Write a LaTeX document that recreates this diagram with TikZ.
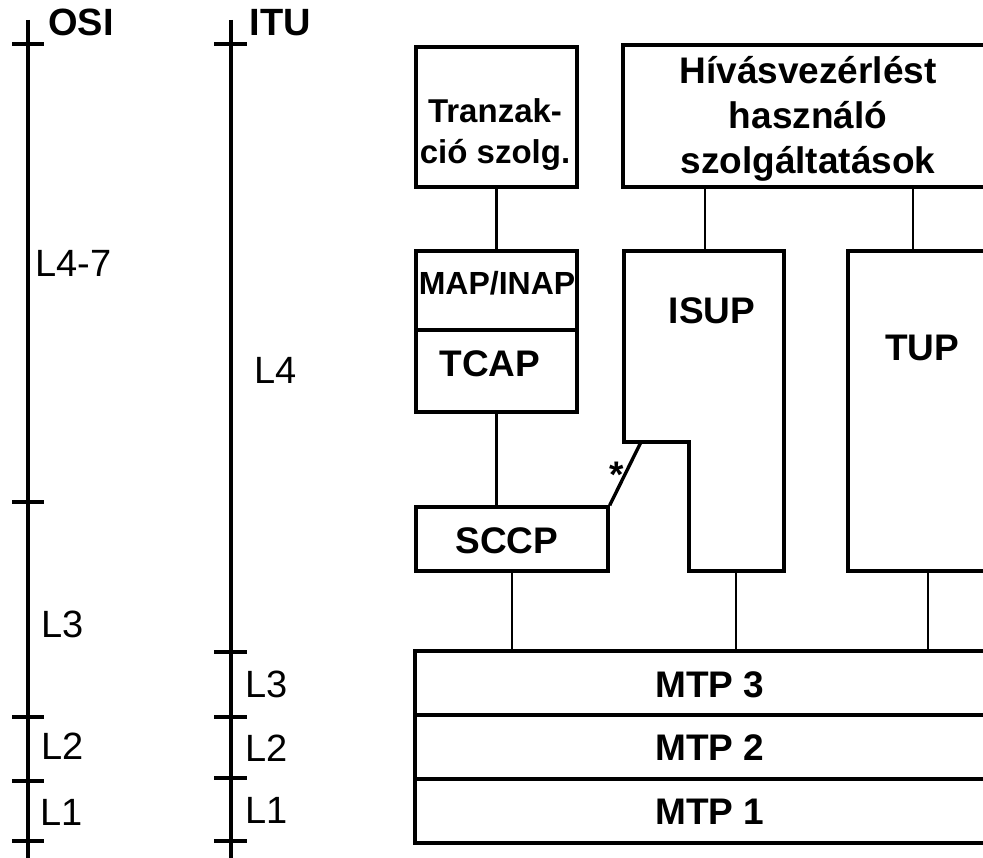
\documentclass[tikz,border=0pt]{standalone}
\usepackage{fontspec}
\setmainfont{Liberation Sans}
\begin{document}
\begin{tikzpicture}[x=1pt,y=-1pt,
  boxline/.style={draw, line width=3.4pt, line join=miter},
  box/.style={boxline, rectangle, inner sep=0pt},
  conn/.style={line width=2.7pt},
  axisline/.style={line width=3.2pt},
  bt/.style={font=\fontsize{37}{43}\selectfont\bfseries, inner sep=0pt, anchor=base},
  lt/.style={font=\fontsize{38}{43}\selectfont, inner sep=0pt, anchor=base west},
  ht/.style={font=\fontsize{38}{43}\selectfont\bfseries, inner sep=0pt, anchor=base west},
]
\useasboundingbox (0,0) rectangle (983,858);
\clip (0,0) rectangle (983,858);

% OSI axis
\draw[axisline] (28,20) -- (28,862);
\foreach \y in {44,502,717,781,841} \draw[axisline] (12,\y) -- (44,\y);
% ITU axis
\draw[axisline] (231,20) -- (231,862);
\foreach \y in {44,652,717,778,841} \draw[axisline] (214,\y) -- (247,\y);

% axis labels
\node[ht] (osi) at (48,36) {OSI};
\node[ht] (itu) at (249.5,36) {ITU};
\node[lt] (o47) at (35.5,277) {L4-7};
\node[lt] (o3) at (41,637) {L3};
\node[lt] (o2) at (41,759) {L2};
\node[lt] (o1) at (40.5,825) {L1};
\node[lt] (i4) at (254,384) {L4};
\node[lt] (i3) at (245,697) {L3};
\node[lt] (i2) at (245,761) {L2};
\node[lt] (i1) at (245,823) {L1};

% boxes
\node[box, minimum width=161pt, minimum height=140pt] (tranz) at (496.5,117) {};
\node[box, minimum width=372pt, minimum height=142pt] (hivas) at (809,116) {};
\node[box, minimum width=161pt, minimum height=79pt] (map) at (496.5,290.5) {};
\node[box, minimum width=161pt, minimum height=82pt] (tcap) at (496.5,371) {};
\node[box, minimum width=192pt, minimum height=64pt] (sccp) at (512,539) {};
\node[box, minimum width=152pt, minimum height=320pt] (tup) at (924,411) {};
\node[box, minimum width=585pt, minimum height=64pt] (mtp3) at (707.5,683) {};
\node[box, minimum width=585pt, minimum height=64pt] (mtp2) at (707.5,747) {};
\node[box, minimum width=585pt, minimum height=64pt] (mtp1) at (707.5,811) {};

% ISUP shape
\draw[boxline] (624,251) -- (624,442) -- (689,442) -- (689,571) -- (784,571) -- (784,251) -- cycle;
\coordinate (isupN) at (705,251);
\coordinate (isupS) at (736,571);
\coordinate (isupNotch) at (641,442);

% texts in boxes
\node[bt, font=\fontsize{33}{43}\selectfont\bfseries] (tr1) at (495,123) {Tranzak-};
\node[bt, font=\fontsize{33}{43}\selectfont\bfseries] (tr2) at (495,164) {ció szolg.};
\node[bt] (hv1) at (808,84) {Hívásvezérlést};
\node[bt] (hv2) at (808,129) {használó};
\node[bt] (hv3) at (808,174) {szolgáltatások};
\node[bt, font=\fontsize{32}{43}\selectfont\bfseries] (maptxt) at (497,295) {MAP/INAP};
\node[bt] (tcaptxt) at (490,377) {TCAP};
\node[bt] (isuptxt) at (712,324) {ISUP};
\node[bt] (tuptxt) at (922,361) {TUP};
\node[bt] (sccptxt) at (507,553) {SCCP};
\node[bt] (m3) at (710,697) {MTP 3};
\node[bt] (m2) at (710,760) {MTP 2};
\node[bt] (m1) at (710,824) {MTP 1};
\node[bt] (star) at (617,488) {*};

% connectors
\draw[conn] (tranz.south) -- (map.north);
\draw[conn] (tcap.south) -- (tcap.south |- sccp.north);
\draw[conn] (hivas.south -| isupN) -- (isupN);
\draw[conn] ([xshift=-11pt]tup.north) -- ([xshift=-11pt]tup.north |- hivas.south);
\draw[conn] (sccp.south) -- (sccp.south |- mtp3.north);
\draw[conn] (isupS) -- (isupS |- mtp3.north);
\draw[conn] ([xshift=4pt]tup.south) -- ([xshift=4pt]tup.south |- mtp3.north);
\draw[line width=3.4pt] (sccp.north east) -- (isupNotch);
\end{tikzpicture}
\end{document}
